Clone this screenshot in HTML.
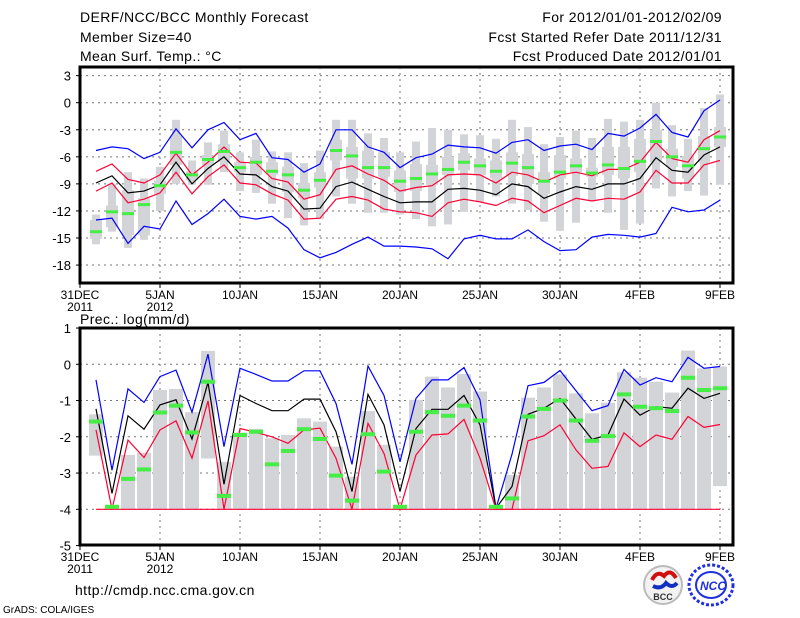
<!DOCTYPE html>
<html><head><meta charset="utf-8"><style>
html,body{margin:0;padding:0;background:#fff;}
svg{display:block;font-family:"Liberation Sans",sans-serif;}
</style></head><body>
<svg id="chart" width="800" height="618" viewBox="0 0 800 618">
<g font-size="14" letter-spacing="0.4" fill="#000">
<text x="80" y="22">DERF/NCC/BCC Monthly Forecast</text>
<text x="80" y="42">Member Size=40</text>
<text x="80" y="61">Mean Surf. Temp.: °C</text>
<text x="722" y="22" text-anchor="end">For 2012/01/01-2012/02/09</text>
<text x="722" y="42" text-anchor="end">Fcst Started Refer Date 2011/12/31</text>
<text x="722" y="61" text-anchor="end">Fcst Produced Date 2012/01/01</text>
</g>
<text x="80" y="324" font-size="14" letter-spacing="0.4">Prec.: log(mm/d)</text>
<text x="75" y="595" font-size="14" letter-spacing="0.4">http://cmdp.ncc.cma.gov.cn</text>
<text x="3" y="613" font-size="10">GrADS: COLA/IGES</text>
<g>
<circle cx="663" cy="585" r="19" fill="#f2f2f2" stroke="#bbb" stroke-width="2"/>
<path d="M652 580 q5 -10 12 -4 q6 -8 12 2" fill="none" stroke="#d01010" stroke-width="4"/>
<path d="M653 586 q8 4 13 -3 q6 6 11 0" fill="none" stroke="#1030c0" stroke-width="4"/>
<text x="663" y="600" font-size="9" font-weight="bold" text-anchor="middle" fill="#333">BCC</text>
</g>
<g>
<ellipse cx="711" cy="585" rx="22" ry="20" fill="none" stroke="#2030e0" stroke-width="3" stroke-dasharray="3 2"/>
<ellipse cx="711" cy="585" rx="15" ry="13" fill="none" stroke="#2030e0" stroke-width="2"/>
<text x="713" y="590" font-size="12" font-weight="bold" font-style="italic" text-anchor="middle" fill="#2030e0">NCC</text>
</g>
<g id="top"></g>
<g id="bot"></g>
</svg>
<script>
// ---- Temperature data (days 1..40 from 2011-12-31) ----
const tBlueHi=[-5.3,-4.9,-5.1,-6.2,-5.5,-2.9,-5.0,-3.0,-2.2,-4.1,-3.4,-6.1,-6.3,-7.7,-6.8,-3.0,-3.0,-4.9,-5.5,-7.2,-6.1,-5.7,-4.7,-4.9,-5.0,-5.6,-4.4,-4.1,-5.3,-4.8,-4.6,-5.2,-3.4,-3.7,-2.8,-1.3,-3.3,-3.8,-0.9,0.3];
const tRedHi=[-7.6,-6.8,-8.5,-8.9,-8.0,-5.6,-8.0,-6.6,-4.9,-6.6,-6.7,-8.4,-8.8,-10.7,-10.2,-7.4,-7.0,-7.9,-8.6,-9.8,-9.4,-9.2,-8.0,-7.9,-8.0,-8.9,-7.7,-8.0,-8.8,-8.0,-7.7,-8.1,-7.4,-7.4,-6.6,-4.4,-6.2,-6.6,-4.1,-3.1];
const tMean=[-8.9,-8.1,-10.0,-9.8,-9.1,-6.6,-9.0,-7.3,-6.0,-7.9,-8.0,-9.3,-9.8,-11.8,-11.7,-9.3,-8.8,-9.6,-10.4,-11.1,-11.0,-11.0,-9.6,-9.5,-9.7,-10.2,-9.0,-9.3,-10.6,-9.9,-9.3,-9.6,-9.0,-9.0,-8.4,-6.1,-7.5,-7.7,-5.8,-4.9];
const tRedLo=[-9.8,-8.9,-11.1,-10.7,-10.0,-7.7,-10.1,-8.2,-6.9,-8.9,-9.1,-10.1,-10.8,-12.9,-12.8,-10.7,-10.4,-10.8,-11.8,-12.1,-12.2,-12.6,-11.1,-10.7,-11.0,-11.4,-10.6,-10.9,-12.2,-11.4,-10.6,-10.9,-10.6,-10.7,-9.9,-7.5,-8.9,-8.9,-6.9,-6.4];
const tBlueLo=[-13.0,-12.8,-15.6,-13.7,-14.0,-10.9,-13.5,-12.3,-10.7,-12.6,-12.9,-12.6,-13.9,-16.3,-17.2,-16.6,-15.7,-14.9,-15.9,-15.9,-16.0,-16.2,-17.3,-15.1,-14.7,-15.1,-15.1,-14.1,-15.4,-16.4,-16.3,-14.9,-14.6,-14.7,-14.9,-14.5,-11.6,-12.1,-11.9,-10.8];
const tMedian=[-14.3,-12.1,-12.3,-11.3,-9.2,-5.5,-8.0,-6.3,-5.4,-7.2,-6.6,-7.6,-8.0,-9.7,-8.6,-5.3,-5.9,-7.2,-7.2,-8.7,-8.4,-7.9,-7.4,-6.6,-7.0,-7.6,-6.7,-7.2,-8.7,-7.7,-7.0,-7.8,-6.9,-7.3,-6.5,-4.3,-6.0,-7.0,-5.1,-3.8];
const tMax=[-12.4,-9.0,-7.7,-8.4,-7.1,-1.9,-6.4,-4.4,-3.1,-5.5,-4.1,-5.4,-5.5,-6.7,-5.3,-1.9,-1.9,-3.4,-3.9,-5.5,-4.3,-2.8,-3.0,-3.5,-3.6,-4.0,-1.9,-2.7,-4.6,-3.8,-3.1,-3.9,-1.8,-2.1,-1.9,0.0,-2.5,-4.0,-0.6,0.9];
const tMin=[-15.7,-14.3,-16.1,-15.2,-12.0,-9.0,-9.1,-9.1,-7.7,-9.8,-10.0,-11.2,-12.8,-13.6,-12.9,-10.4,-11.2,-12.2,-12.2,-12.4,-12.9,-13.7,-13.5,-12.1,-11.0,-10.4,-11.2,-11.9,-13.2,-14.2,-13.3,-10.9,-12.2,-14.1,-13.4,-9.5,-10.4,-9.8,-10.3,-9.1];
const tQ3=[-13.0,-11.4,-9.7,-10.6,-8.6,-3.7,-7.6,-5.8,-4.6,-6.6,-6.0,-6.6,-7.1,-8.9,-7.7,-4.1,-4.9,-5.3,-5.5,-7.5,-6.8,-6.9,-6.0,-5.6,-6.2,-6.4,-5.5,-5.7,-7.7,-5.8,-6.2,-7.2,-4.9,-4.9,-4.0,-3.0,-5.1,-5.9,-3.7,-2.7];
const tQ1=[-15.1,-13.8,-14.7,-14.7,-10.1,-6.9,-8.6,-6.9,-6.6,-7.7,-8.0,-8.0,-9.9,-10.6,-9.4,-6.4,-8.4,-8.4,-8.2,-9.9,-9.8,-9.1,-8.0,-7.5,-8.0,-8.4,-8.1,-9.0,-10.1,-8.4,-7.7,-8.2,-8.0,-8.4,-7.7,-6.6,-7.1,-8.4,-6.6,-4.9];
const tTicks=[3,0,-3,-6,-9,-12,-15,-18];
// ---- Precipitation data log(mm/d) ----
const pBlue=[-0.43,-2.92,-0.68,-1.05,-0.34,-0.16,-1.32,0.28,-2.27,-0.11,-0.28,-0.46,-0.46,-0.18,-0.18,-1.08,-2.76,-0.05,-0.86,-2.69,-0.94,-0.43,-0.43,-0.09,-0.98,-3.97,-2.48,-0.59,-0.50,-0.17,-0.73,-1.28,-1.14,-0.14,-0.57,-0.37,-0.48,0.19,-0.11,-0.06];
const pMean=[-1.23,-3.56,-1.42,-1.79,-1.12,-0.98,-2.06,-0.5,-3.31,-0.86,-1.08,-1.28,-1.28,-0.96,-0.96,-1.86,-3.51,-0.83,-1.67,-3.51,-1.77,-1.24,-1.24,-0.86,-1.67,-3.97,-3.37,-1.38,-1.21,-0.94,-1.51,-2.07,-1.95,-0.96,-1.40,-1.17,-1.21,-0.66,-0.94,-0.80];
const pRed=[-1.81,-4,-2.09,-2.57,-1.81,-1.56,-2.59,-1.01,-4,-1.77,-1.88,-2.0,-2.18,-1.81,-1.76,-2.59,-4,-1.63,-2.46,-4,-2.5,-1.95,-1.92,-1.52,-2.59,-4,-4,-2.11,-1.97,-1.67,-2.36,-2.87,-2.82,-1.89,-2.27,-1.95,-2.07,-1.44,-1.74,-1.66];
const pMedian=[-1.58,-3.93,-3.16,-2.90,-1.33,-1.14,-1.88,-0.48,-3.63,-1.95,-1.86,-2.76,-2.39,-1.79,-2.06,-3.07,-3.76,-1.93,-2.96,-3.93,-1.86,-1.32,-1.42,-1.14,-1.55,-3.93,-3.70,-1.44,-1.23,-1.0,-1.55,-2.11,-1.98,-0.83,-1.17,-1.21,-1.29,-0.37,-0.71,-0.66];
const pTop=[-1.38,-3.9,-2.5,-2.44,-0.71,-0.68,-1.32,0.37,-2.69,-1.88,-1.78,-2.04,-1.95,-1.49,-1.58,-2.27,-3.1,-1.29,-2.22,-3.93,-0.98,-0.34,-0.64,-0.27,-0.75,-4,-3.05,-0.92,-0.64,-0.28,-0.80,-1.35,-1.06,-0.22,-0.37,-0.48,-0.78,0.38,-0.11,-0.06];
const pBot=[-2.52,-4,-4,-4,-4,-4,-4,-2.6,-4,-4,-4,-4,-4,-4,-4,-4,-4,-4,-4,-4,-4,-4,-4,-4,-4,-4,-4,-4,-4,-4,-4,-4,-4,-4,-4,-4,-4,-4,-4,-3.36];
const pTicks=[1,0,-1,-2,-3,-4,-5];
const dateTicks=[[0,"31DEC","2011"],[5,"5JAN","2012"],[10,"10JAN",""],[15,"15JAN",""],[20,"20JAN",""],[25,"25JAN",""],[30,"30JAN",""],[35,"4FEB",""],[40,"9FEB",""]];

const NS="http://www.w3.org/2000/svg";
const X0=80,X1=733;
const xS=d=>80+16*d;
function mk(parent,tag,attrs){const e=document.createElementNS(NS,tag);for(const k in attrs)e.setAttribute(k,attrs[k]);parent.appendChild(e);return e;}

function axes(g,yS,ticks,top,bot,prefix){
  ticks.forEach(t=>{const y=yS(t);
    const l=mk(g,'line',{x1:X0,x2:X1,y1:y,y2:y,stroke:'#777','stroke-dasharray':'2 4','stroke-width':1});
    
    
    const tk=mk(g,'line',{x1:X0-4,x2:X0,y1:y,y2:y,stroke:'#000'});
    
    
    const tx=mk(g,'text',{x:X0-9,y:y+5,'font-size':13,'text-anchor':'end'});tx.textContent=t;
    
    
  });
  dateTicks.forEach(([d,a,b])=>{const x=xS(d);
    const l=mk(g,'line',{x1:x,x2:x,y1:top,y2:bot,stroke:'#777','stroke-dasharray':'2 4'});
    
    
    const tk=mk(g,'line',{x1:x,x2:x,y1:bot,y2:bot+5,stroke:'#000'});
    
    
    const tx=mk(g,'text',{x:x,y:bot+16,'font-size':12,'text-anchor':'middle'});tx.textContent=a;
    
    
    if(b){const t2=mk(g,'text',{x:x,y:bot+28,'font-size':12,'text-anchor':'middle'});t2.textContent=b;
      
      }
  });
}
function frame(g,top,bot,prefix){
  const r=mk(g,'rect',{x:X0,y:top,width:X1-X0,height:bot-top,fill:'none',stroke:'#000','stroke-width':3});
  
  
}
function line(g,vals,yS,color,name){
  const pts=vals.map((v,i)=>xS(i+1)+','+yS(v).toFixed(1)).join(' ');
  const p=mk(g,'polyline',{points:pts,fill:'none',stroke:color,'stroke-width':1.2});
  
  
}

// Temperature panel
const tTop=67,tBot=283;
const tY=v=>102.7-v*9.02;
const gt=document.getElementById('top');
axes(gt,tY,tTicks,tTop,tBot,'temp');
tMax.forEach((v,i)=>{const x=xS(i+1);
  const w=mk(gt,'rect',{x:x-4,y:tY(tMax[i]),width:8,height:tY(tMin[i])-tY(tMax[i]),fill:'#d3d4d8'});
  
  
  const b=mk(gt,'rect',{x:x-6,y:tY(tQ3[i]),width:12,height:tY(tQ1[i])-tY(tQ3[i]),fill:'#d3d4d8'});
  
  
});
line(gt,tBlueLo,tY,'#0000ff','temp-lower-bound-line');
line(gt,tBlueHi,tY,'#0000ff','temp-upper-bound-line');
line(gt,tRedLo,tY,'#ff0033','temp-lower-sd-line');
line(gt,tRedHi,tY,'#ff0033','temp-upper-sd-line');
line(gt,tMean,tY,'#000000','temp-mean-line');
tMedian.forEach((v,i)=>{const m=mk(gt,'rect',{x:xS(i+1)-6,y:tY(v)-1.5,width:12,height:3,fill:'#44ee44'});
  
  });
frame(gt,tTop,tBot,'temp');

// Precipitation panel
const pTopY=328,pBotY=545;
const pY=v=>364.3-v*36.25;
const gb=document.getElementById('bot');
axes(gb,pY,pTicks,pTopY,pBotY,'prec');
pTop.forEach((v,i)=>{const x=xS(i+1);
  const b=mk(gb,'rect',{x:x-7,y:pY(pTop[i]),width:14,height:Math.max(1,pY(pBot[i])-pY(pTop[i])),fill:'#d3d4d8'});
  
  
});
line(gb,pBlue,pY,'#0000ff','prec-upper-bound-line');
line(gb,pMean,pY,'#000000','prec-mean-line');
line(gb,pRed,pY,'#ff0033','prec-lower-line');
const base=mk(gb,'line',{x1:xS(1),x2:xS(40),y1:pY(-4),y2:pY(-4),stroke:'#ff0033','stroke-width':1.2});


pMedian.forEach((v,i)=>{const m=mk(gb,'rect',{x:xS(i+1)-7,y:pY(v)-2,width:14,height:4,fill:'#44ee44'});
  
  });
frame(gb,pTopY,pBotY,'prec');
</script>
</body></html>
